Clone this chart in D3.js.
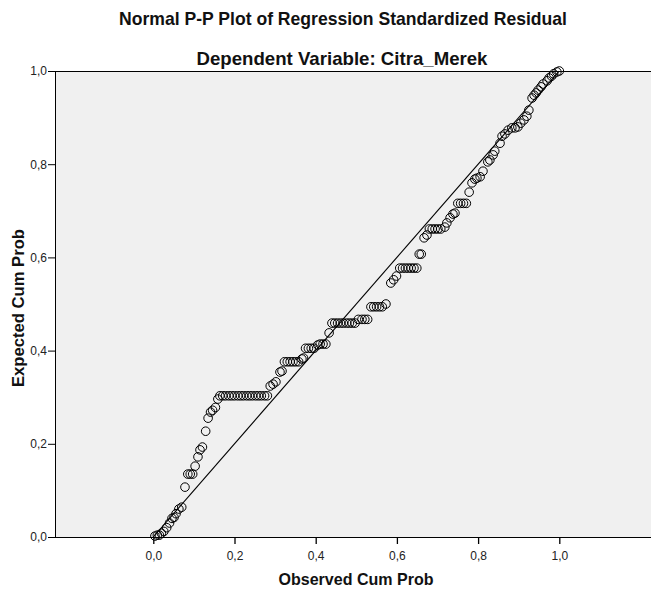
<!DOCTYPE html>
<html><head><meta charset="utf-8">
<script src="https://cdn.jsdelivr.net/npm/d3@7/dist/d3.min.js"></script>
<style>body{margin:0;background:#fff;} svg{display:block;}</style>
</head><body>
<svg id="c" width="651" height="593"></svg>
<script>
const title = "Normal P-P Plot of Regression Standardized Residual";
const subtitle = "Dependent Variable: Citra_Merek";
const xLabel = "Observed Cum Prob";
const yLabel = "Expected Cum Prob";
const xTicks = [0, 0.2, 0.4, 0.6, 0.8, 1.0];
const yTicks = [0, 0.2, 0.4, 0.6, 0.8, 1.0];
const tickFmt = v => v.toFixed(1).replace(".", ",");

const observed = [
 0.004,0.010,0.015,0.020,0.026,0.033,0.040,0.046,0.051,0.056,0.063,0.070,0.078,0.085,0.091,0.097,0.103,0.110,0.115,0.121,
 0.129,0.135,0.141,0.146,0.153,0.159,
 0.164,0.171,0.178,0.186,0.193,0.200,0.208,0.215,0.222,0.230,0.237,0.244,0.252,0.259,0.266,0.274,0.281,
 0.288,0.295,0.302,0.312,0.317,
 0.323,0.330,0.337,0.344,0.351,0.358,0.366,0.370,
 0.375,0.382,0.389,0.396,0.405,0.411,0.418,0.425,0.433,
 0.440,0.447,0.454,0.461,0.468,0.476,0.483,0.490,0.497,
 0.505,0.514,0.521,0.528,
 0.536,0.543,0.550,0.557,0.564,0.573,
 0.585,0.592,0.599,
 0.607,0.614,0.621,0.628,0.635,0.642,0.649,
 0.655,0.660,0.667,0.674,
 0.680,0.687,0.694,0.701,0.708,
 0.718,0.723,0.731,0.738,0.743,
 0.750,0.757,0.764,0.771,
 0.778,0.785,0.792,0.797,0.805,0.812,0.824,0.829,0.837,0.841,0.854,0.859,0.866,0.874,
 0.883,0.891,0.898,0.905,0.913,0.920,0.925,0.933,0.938,0.943,0.948,0.955,0.960,0.970,0.975,0.981,0.986,0.994,1.000
];
const expected = [
 0.002,0.004,0.004,0.008,0.012,0.020,0.030,0.040,0.042,0.050,0.060,0.064,0.107,0.135,0.135,0.135,0.152,0.172,0.187,0.193,
 0.227,0.255,0.268,0.272,0.278,0.296,
 0.303,0.303,0.303,0.303,0.303,0.303,0.303,0.303,0.303,0.303,0.303,0.303,0.303,0.303,0.303,0.303,0.303,
 0.324,0.328,0.333,0.354,0.356,
 0.376,0.376,0.376,0.376,0.376,0.376,0.382,0.384,
 0.405,0.405,0.405,0.405,0.412,0.414,0.414,0.414,0.438,
 0.459,0.459,0.459,0.459,0.459,0.459,0.459,0.459,0.459,
 0.467,0.467,0.467,0.467,
 0.494,0.494,0.494,0.494,0.494,0.500,
 0.545,0.552,0.560,
 0.577,0.577,0.577,0.577,0.577,0.577,0.577,
 0.607,0.607,0.642,0.648,
 0.661,0.661,0.661,0.661,0.661,
 0.665,0.674,0.685,0.693,0.695,
 0.716,0.716,0.716,0.716,
 0.740,0.760,0.768,0.770,0.773,0.785,0.805,0.809,0.820,0.828,0.845,0.860,0.865,0.873,
 0.878,0.878,0.880,0.888,0.895,0.903,0.916,0.942,0.948,0.953,0.959,0.966,0.972,0.979,0.985,0.989,0.994,0.998,1.000
];

const svg = d3.select("#c");
const plot = {left: 55, right: 651, top: 71, bottom: 537};
const x = d3.scaleLinear().domain([0, 1]).range([153.3, 559.3]);
const y = d3.scaleLinear().domain([0, 1]).range([plot.bottom, plot.top]);
const font = "'Liberation Sans', Arial, sans-serif";

// background
svg.append("rect").attr("x", plot.left).attr("y", plot.top)
  .attr("width", plot.right - plot.left).attr("height", plot.bottom - plot.top)
  .attr("fill", "#f0f0f0");

// top border
svg.append("line").attr("x1", plot.left).attr("x2", plot.right).attr("y1", plot.top + 0.5).attr("y2", plot.top + 0.5)
  .attr("stroke", "#000").attr("stroke-width", 1);

// axes
const xAxis = d3.axisBottom(x).tickValues(xTicks).tickFormat(tickFmt).tickSize(7).tickSizeOuter(0);
const gx = svg.append("g").attr("transform", `translate(0,${plot.bottom})`).call(xAxis);
gx.select(".domain").attr("d", `M${plot.left},0.5H${plot.right}`).attr("stroke", "#000");
gx.selectAll(".tick line").attr("stroke", "#000").attr("stroke-width", 1.3);
gx.selectAll(".tick text").attr("font-family", font).attr("font-size", 12).attr("fill", "#222").attr("dy", "1.05em");

const yAxis = d3.axisLeft(y).tickValues(yTicks).tickFormat(tickFmt).tickSize(7).tickSizeOuter(0);
const gy = svg.append("g").attr("transform", `translate(${plot.left},0)`).call(yAxis);
gy.select(".domain").attr("d", `M0.5,${plot.top}V${plot.bottom}`).attr("stroke", "#000");
gy.selectAll(".tick line").attr("stroke", "#000");
gy.selectAll(".tick text").attr("font-family", font).attr("font-size", 12).attr("fill", "#222").attr("x", -8);

// reference diagonal
svg.append("line").attr("x1", x(0)).attr("y1", y(0)).attr("x2", x(1)).attr("y2", y(1))
  .attr("stroke", "#000").attr("stroke-width", 1.1);

// points
const pts = observed.map((o, i) => ({o, e: expected[i]}));
svg.append("g").selectAll("circle").data(pts).join("circle")
  .attr("cx", d => x(d.o)).attr("cy", d => y(d.e)).attr("r", 4.3)
  .attr("fill", "none").attr("stroke", "#000").attr("stroke-width", 1);

// titles
function bold(txt, xx, yy, size, len) {
  return svg.append("text").attr("x", xx).attr("y", yy).attr("text-anchor", "middle")
    .attr("font-family", font).attr("font-weight", "bold").attr("font-size", size)
    .attr("textLength", len).attr("lengthAdjust", "spacingAndGlyphs")
    .attr("fill", "#111").text(txt);
}
bold(title, 343, 25, 18.5, 448);
bold(subtitle, 342, 65, 18.5, 291);
bold(xLabel, 356, 585, 16.5, 155);
svg.append("text").attr("transform", "translate(24,308) rotate(-90)").attr("text-anchor", "middle")
  .attr("font-family", font).attr("font-weight", "bold").attr("font-size", 16.5)
  .attr("textLength", 158).attr("lengthAdjust", "spacingAndGlyphs")
  .attr("fill", "#111").text(yLabel);
</script>
</body></html>
